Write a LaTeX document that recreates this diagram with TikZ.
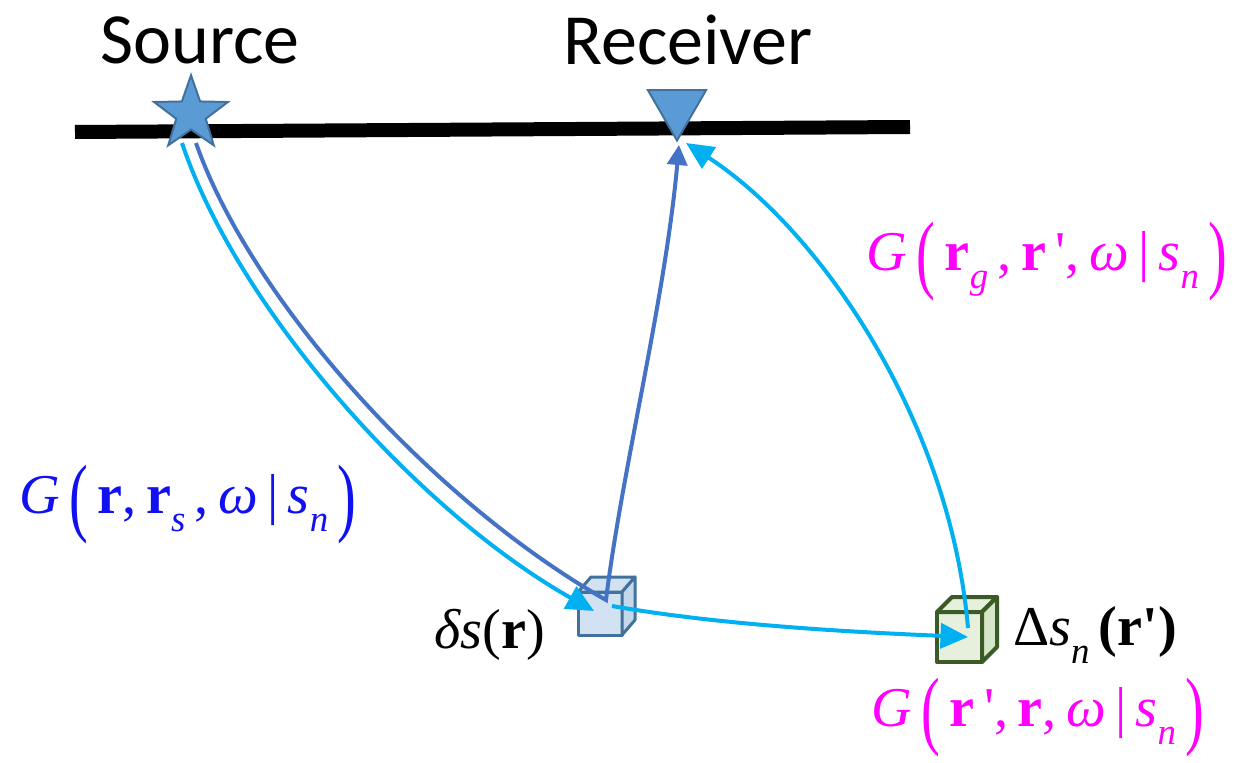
\documentclass[tikz,border=0pt]{standalone}
\usepackage{fontspec}
\usepackage{graphicx}
\newfontfamily\labelfont{Carlito}
\newfontfamily\eqfont{Liberation Serif}
\usetikzlibrary{shapes.geometric,arrows.meta}

\definecolor{rayblue}{HTML}{4472C4}
\definecolor{raycyan}{HTML}{00B0F0}
\definecolor{markfill}{HTML}{5B9BD5}
\definecolor{markline}{HTML}{41719C}
\definecolor{cubeblue}{HTML}{D2E2F2}
\definecolor{cubeblueside}{HTML}{C4D8EC}
\definecolor{cubegreen}{HTML}{E6F0DD}
\definecolor{cubegreenside}{HTML}{D6E6C9}
\definecolor{cubeedge}{HTML}{3B5A25}
\definecolor{gmagenta}{HTML}{FF00FF}
\definecolor{gblue}{HTML}{1010F0}

% tall parentheses and lowered subscripts
\newcommand{\tallL}{\raisebox{-0.22em}{\scalebox{1}[1.55]{(}}}
\newcommand{\tallR}{\raisebox{-0.22em}{\scalebox{1}[1.55]{)}}}
\newcommand{\sub}[1]{\raisebox{-0.32em}{\fontsize{21}{24}\selectfont\itshape #1}}

\tikzset{
  title/.style={font=\labelfont\fontsize{41}{48}\selectfont, inner sep=0pt},
  eqlbl/.style={font=\eqfont\fontsize{32}{38}\selectfont, inner sep=0pt},
  ray/.style={line width=0.08cm},
  rayhead/.style={-{Triangle[length=0.55cm,width=0.5cm]}},
  smallhead/.style={-{Triangle[length=0.4cm,width=0.4cm]}},
}

\begin{document}
\begin{tikzpicture}[x=0.02cm, y=-0.02cm]
\useasboundingbox (0,0) rectangle (1237,763);

% --- Surface ---
\draw[line width=0.28cm] (75,132) -- (910,127);

% --- Scatterer cubes ---
% delta s cube
\filldraw[fill=cubeblue, draw=markline, line width=0.06cm, line join=round]
  (578,592) rectangle (622,635);
\filldraw[fill=cubeblue, draw=markline, line width=0.06cm, line join=round]
  (578,592) -- (591,577) -- (635,577) -- (622,592) -- cycle;
\filldraw[fill=cubeblueside, draw=markline, line width=0.06cm, line join=round]
  (622,592) -- (635,577) -- (635,620) -- (622,635) -- cycle;

% Delta s_n cube
\filldraw[fill=cubegreen, draw=cubeedge, line width=0.08cm, line join=round]
  (937,612) rectangle (982,662);
\filldraw[fill=cubegreen, draw=cubeedge, line width=0.08cm, line join=round]
  (937,612) -- (952,597) -- (997,597) -- (982,612) -- cycle;
\filldraw[fill=cubegreenside, draw=cubeedge, line width=0.08cm, line join=round]
  (982,612) -- (997,597) -- (997,647) -- (982,662) -- cycle;

% --- Source and receiver ---
\node[star, star points=5, star point ratio=2.5, minimum size=1.55cm, inner sep=0pt,
  fill=markfill, draw=markline, line width=0.04cm] (src) at (191,114) {};
\node[regular polygon, regular polygon sides=3, shape border rotate=180,
  minimum size=1.34cm, inner sep=0pt, fill=markfill, draw=markline,
  line width=0.04cm] (rec) at (677,107) {};

% --- Ray end points ---
\coordinate (srcA) at (196,143);
\coordinate (srcB) at (182,143);
\coordinate (dsA) at (606,600);
\coordinate (dsB) at (594,611);
\coordinate (dsOut) at (612,606);
\coordinate (dsnIn) at (968,637);
\coordinate (dsnOut) at (968,628);
\coordinate (recA) at (679,145);
\coordinate (recB) at (686,143);

% --- Rays ---
\draw[ray, raycyan, rayhead] (srcB) .. controls (236,305) and (415,510) .. (dsB);
\draw[ray, rayblue, smallhead] (srcA) .. controls (250,298) and (430,500) .. (dsA)
  .. controls (622,470) and (665,300) .. (recA);
\draw[ray, raycyan, rayhead] (dsOut) .. controls (720,625) and (850,632) .. (dsnIn);
\draw[ray, raycyan, rayhead] (dsnOut) .. controls (950,420) and (820,230) .. (recB);

% --- Labels ---
\node[title] (srclbl) at (200,40) {Source};
\node[title] (reclbl) at (688,40) {Receiver};
\node[eqlbl, text=gblue] (gsrc) at (188,505)
  {\textit{G}\,\tallL\,\textbf{r},\,\textbf{r}\sub{s}\,,\,\textit{ω}\,|\,\textit{s}\sub{n}\,\tallR};
\node[eqlbl, text=gmagenta] (grec) at (1047,262)
  {\textit{G}\,\tallL\,\textbf{r}\sub{g}\,,\,\textbf{r}\,',\,\textit{ω}\,|\,\textit{s}\sub{n}\,\tallR};
\node[eqlbl, text=gmagenta] (gscat) at (1038,718)
  {\textit{G}\,\tallL\,\textbf{r}\,',\,\textbf{r},\,\textit{ω}\,|\,\textit{s}\sub{n}\,\tallR};
\node[eqlbl] (dslbl) at (490,635) {\textit{δs}(\textbf{r})};
\node[eqlbl] (dsnlbl) at (1095,635) {Δ\textit{s}\sub{n}\,\textbf{(r')}};

\end{tikzpicture}
\end{document}
